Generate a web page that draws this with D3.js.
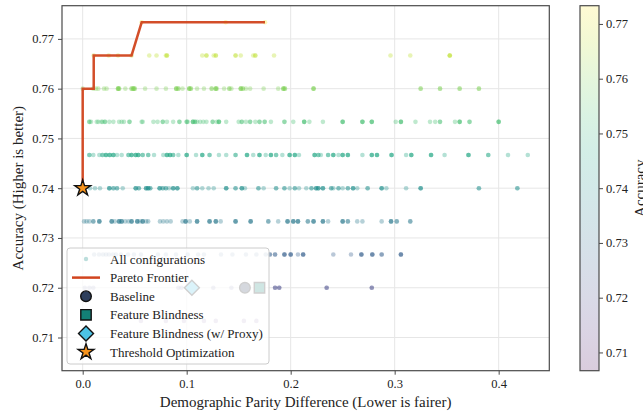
<!DOCTYPE html>
<html>
<head>
<meta charset="utf-8">
<script src="https://cdn.jsdelivr.net/npm/d3@7"></script>
<style>
  body { margin: 0; background: #fff; }
  svg { display: block; font-family: "Liberation Serif", "Times New Roman", serif; }
</style>
</head>
<body>
<svg id="chart" width="643" height="414" viewBox="0 0 643 414"></svg>
<script>
// accuracy levels (test set of 150 -> steps of 1/150)
// each row: [demographic parity difference, number of overlapping configs]
const acc7733 = [[0.0567, 1], [0.1375, 1], [0.1753, 1]];
const acc7667 = [[0.0106, 1], [0.025, 1], [0.034, 1], [0.047, 1], [0.064, 1], [0.071, 1], [0.080, 1], [0.081, 2],
  [0.115, 1], [0.119, 2], [0.126, 1], [0.128, 2], [0.147, 2], [0.152, 1], [0.164, 1], [0.166, 2], [0.184, 1],
  [0.296, 1], [0.315, 1], [0.353, 3]];
const acc7600 = [[0, 1], [0.0102, 1], [0.0128, 1], [0.015, 1], [0.0205, 1], [0.023, 1], [0.034, 3], [0.035, 2],
  [0.041, 1], [0.047, 2], [0.0487, 3], [0.050, 2], [0.060, 1], [0.071, 1], [0.080, 1], [0.090, 3], [0.092, 2],
  [0.096, 1], [0.1025, 3], [0.104, 2], [0.110, 1], [0.1166, 1], [0.124, 2], [0.128, 3], [0.129, 1], [0.136, 1],
  [0.141, 2], [0.143, 1], [0.152, 3], [0.154, 2], [0.157, 1], [0.161, 1], [0.174, 1], [0.188, 1], [0.193, 3],
  [0.1945, 2], [0.222, 3], [0.325, 2], [0.3436, 2], [0.3625, 2], [0.381, 2]];
const acc7533 = [[0.0064, 2], [0.008, 1], [0.0135, 1], [0.015, 1], [0.018, 1], [0.019, 1], [0.0214, 2], [0.0256, 1],
  [0.0295, 1], [0.035, 1], [0.0375, 1], [0.0397, 1], [0.045, 2], [0.0567, 1], [0.0577, 1], [0.068, 1], [0.072, 1],
  [0.077, 2], [0.081, 1], [0.087, 1], [0.093, 2], [0.100, 2], [0.101, 1], [0.106, 3], [0.108, 2], [0.110, 1],
  [0.113, 1], [0.116, 1], [0.119, 1], [0.125, 2], [0.129, 1], [0.131, 3], [0.138, 1], [0.150, 1], [0.153, 2],
  [0.157, 1], [0.161, 2], [0.166, 1], [0.170, 2], [0.175, 2], [0.181, 1], [0.194, 2], [0.2025, 1], [0.213, 3],
  [0.218, 1], [0.231, 1], [0.250, 3], [0.269, 3], [0.278, 3], [0.301, 1], [0.306, 3], [0.320, 1], [0.334, 1],
  [0.339, 1], [0.3436, 2], [0.358, 1], [0.3625, 3], [0.372, 2], [0.400, 3]];
const acc7467 = [[0.0064, 2], [0.0102, 1], [0.016, 1], [0.019, 2], [0.0224, 3], [0.026, 3], [0.0295, 3], [0.033, 1],
  [0.0375, 1], [0.044, 2], [0.047, 3], [0.051, 3], [0.0535, 3], [0.0577, 2], [0.063, 2], [0.0686, 1], [0.0775, 1],
  [0.081, 3], [0.084, 3], [0.087, 2], [0.092, 1], [0.100, 3], [0.109, 1], [0.115, 3], [0.122, 2], [0.131, 1],
  [0.138, 1], [0.147, 2], [0.158, 3], [0.164, 1], [0.170, 3], [0.176, 1], [0.181, 3], [0.186, 2], [0.192, 1],
  [0.199, 3], [0.204, 3], [0.208, 1], [0.223, 3], [0.2266, 2], [0.229, 1], [0.236, 2], [0.241, 3], [0.246, 1],
  [0.250, 3], [0.255, 3], [0.269, 1], [0.278, 3], [0.283, 3], [0.297, 3], [0.311, 1], [0.316, 3], [0.335, 3],
  [0.348, 1], [0.371, 3], [0.390, 2], [0.409, 1], [0.428, 1]];
const acc7400 = [[0.007, 1], [0.0118, 1], [0.0166, 1], [0.0256, 3], [0.0295, 2], [0.033, 2], [0.0385, 1],
  [0.051, 3], [0.054, 2], [0.061, 3], [0.063, 3], [0.065, 2], [0.074, 3], [0.077, 2], [0.080, 2], [0.083, 1],
  [0.087, 3], [0.091, 3], [0.106, 1], [0.110, 2], [0.115, 1], [0.121, 1], [0.126, 1], [0.138, 3], [0.147, 2],
  [0.153, 3], [0.156, 1], [0.169, 2], [0.174, 1], [0.186, 2], [0.194, 2], [0.199, 1], [0.204, 2], [0.208, 1],
  [0.215, 1], [0.220, 2], [0.2245, 3], [0.2266, 3], [0.231, 3], [0.239, 2], [0.241, 1], [0.246, 2], [0.250, 1],
  [0.255, 2], [0.260, 3], [0.264, 1], [0.274, 2], [0.2875, 3], [0.292, 1], [0.311, 1], [0.325, 3], [0.381, 2],
  [0.418, 2]];
const acc7333 = [[0.0013, 1], [0.0038, 1], [0.0064, 1], [0.0102, 2], [0.016, 3], [0.0279, 3], [0.031, 1],
  [0.035, 3], [0.0375, 3], [0.041, 1], [0.044, 1], [0.047, 3], [0.0525, 3], [0.055, 1], [0.0577, 3], [0.061, 1],
  [0.063, 1], [0.0743, 1], [0.0775, 1], [0.081, 1], [0.0846, 1], [0.096, 1], [0.099, 3], [0.103, 1], [0.110, 3],
  [0.122, 3], [0.128, 3], [0.1327, 1], [0.147, 3], [0.1615, 3], [0.1785, 2], [0.188, 1], [0.197, 3], [0.2025, 3],
  [0.207, 3], [0.2165, 2], [0.222, 3], [0.231, 3], [0.236, 1], [0.250, 3], [0.255, 2], [0.264, 1], [0.269, 1],
  [0.2875, 1], [0.2965, 3], [0.302, 2], [0.315, 2]];
const acc7267 = [[0.011, 1], [0.0157, 1], [0.0195, 1], [0.0224, 1], [0.0253, 1], [0.029, 1], [0.032, 1],
  [0.0368, 1], [0.0436, 1], [0.0493, 1], [0.056, 1], [0.0724, 1], [0.080, 1], [0.0897, 1], [0.101, 1], [0.111, 1],
  [0.1166, 1], [0.133, 1], [0.144, 1], [0.157, 1], [0.167, 1], [0.176, 1], [0.180, 2], [0.185, 2], [0.194, 3],
  [0.200, 3], [0.207, 1], [0.212, 3], [0.241, 1], [0.258, 1], [0.268, 3], [0.2785, 3], [0.2875, 2], [0.306, 3]];
const acc7200 = [[0.002, 1], [0.0064, 1], [0.0102, 1], [0.092, 1], [0.095, 1], [0.1256, 1], [0.143, 1],
  [0.185, 2], [0.189, 2], [0.2346, 2], [0.278, 2]];
const acc7133 = [[0.056, 1], [0.080, 1], [0.0974, 1], [0.1166, 1], [0.128, 1], [0.155, 1], [0.167, 1]];
const acc7067 = [[0.13, 1]];

const accRows = [
  [116 / 150, acc7733], [115 / 150, acc7667], [114 / 150, acc7600], [113 / 150, acc7533],
  [112 / 150, acc7467], [111 / 150, acc7400], [110 / 150, acc7333], [109 / 150, acc7267],
  [108 / 150, acc7200], [107 / 150, acc7133], [106 / 150, acc7067]
];

// pareto frontier (dpd, accuracy)
const paretoX = [0, 0, 0.0106, 0.0106, 0.047, 0.0567, 0.1753];
const paretoY = [0.74, 0.76, 0.76, 115 / 150, 115 / 150, 116 / 150, 116 / 150];

// named methods
const methods = [
  { name: "Baseline", dpd: 0.156, acc: 0.72, shape: "circle", color: "#2e3f5c" },
  { name: "Feature Blindness", dpd: 0.170, acc: 0.72, shape: "square", color: "#138076" },
  { name: "Feature Blindness (w/ Proxy)", dpd: 0.105, acc: 0.72, shape: "diamond", color: "#4cc3e6" },
  { name: "Threshold Optimization", dpd: 0, acc: 0.74, shape: "star", color: "#f7941d" }
];

const xTicks = [0, 0.1, 0.2, 0.3, 0.4];
const yTicks = [0.71, 0.72, 0.73, 0.74, 0.75, 0.76, 0.77];

const svg = d3.select("#chart");

const plot = { left: 62, right: 549.3, top: 5.7, bottom: 370.7 };
const cbar = { left: 580, right: 599, top: 5.7, bottom: 370.7 };

const x = d3.scaleLinear().domain([-0.0199, 0.4487]).range([plot.left, plot.right]);
const y = d3.scaleLinear().domain([0.70333, 0.77667]).range([plot.bottom, plot.top]);
const cScale = d3.scaleSequential(d3.interpolateViridis).domain([106 / 150, 116 / 150]);
const cY = d3.scaleLinear().domain([106 / 150, 116 / 150]).range([cbar.bottom, cbar.top]);

const spineColor = "#4a4a4a";
const textColor = "#222";

// grid
const grid = svg.append("g").attr("class", "grid");
grid.selectAll("line.gx").data(xTicks).enter().append("line")
  .attr("x1", (d) => x(d)).attr("x2", (d) => x(d))
  .attr("y1", plot.top).attr("y2", plot.bottom)
  .attr("stroke", "#e6e6e6").attr("stroke-width", 1);
grid.selectAll("line.gy").data(yTicks).enter().append("line")
  .attr("x1", plot.left).attr("x2", plot.right)
  .attr("y1", (d) => y(d)).attr("y2", (d) => y(d))
  .attr("stroke", "#e6e6e6").attr("stroke-width", 1);

// scatter of all configurations
const pts = accRows.flatMap(([acc, row]) =>
  row.flatMap(([dpd, n]) => d3.range(n).map(() => ({ dpd, acc })))
);
svg.append("g").attr("class", "dots")
  .selectAll("circle").data(pts).enter().append("circle")
  .attr("cx", (d) => x(d.dpd))
  .attr("cy", (d) => y(d.acc))
  .attr("r", 2.3)
  .attr("fill", (d) => cScale(d.acc))
  .attr("fill-opacity", 0.34);

// pareto frontier
const paretoData = paretoX.map((d, i) => [d, paretoY[i]]);
svg.append("path")
  .datum(paretoData)
  .attr("d", d3.line().x((d) => x(d[0])).y((d) => y(d[1])))
  .attr("fill", "none")
  .attr("stroke", "#d1441e")
  .attr("stroke-width", 2.5)
  .attr("stroke-opacity", 0.95)
  .attr("stroke-linejoin", "miter");

// marker helpers
function markerPath(shape) {
  if (shape === "circle") return d3.symbol(d3.symbolCircle, Math.PI * 5.3 * 5.3)();
  if (shape === "square") return d3.symbol(d3.symbolSquare, 10.4 * 10.4)();
  if (shape === "diamond") return d3.symbol(d3.symbolSquare, 10.6 * 10.6)();
  return d3.symbol(d3.symbolStar, 78)();
}
function drawMarker(g, m, cx, cy) {
  g.append("path")
    .attr("d", markerPath(m.shape))
    .attr("transform", `translate(${cx},${cy})` + (m.shape === "diamond" ? " rotate(45)" : ""))
    .attr("fill", m.color)
    .attr("stroke", "#111")
    .attr("stroke-width", 1.4)
    .attr("stroke-linejoin", "miter");
}

const markG = svg.append("g").attr("class", "methods");
methods.forEach((m) => drawMarker(markG, m, x(m.dpd), y(m.acc)));

// spines
svg.append("rect")
  .attr("x", plot.left).attr("y", plot.top)
  .attr("width", plot.right - plot.left).attr("height", plot.bottom - plot.top)
  .attr("fill", "none").attr("stroke", spineColor).attr("stroke-width", 1.2);

// x axis
const xAxis = svg.append("g")
  .attr("transform", `translate(0,${plot.bottom})`)
  .call(d3.axisBottom(x).tickValues(xTicks).tickFormat(d3.format(".1f")).tickSize(4).tickPadding(4));
xAxis.select(".domain").remove();
xAxis.selectAll("line").attr("stroke", spineColor);
xAxis.selectAll("text").attr("fill", textColor).style("font-size", "12.5px")
  .style("font-family", "Liberation Serif, serif");

// y axis
const yAxis = svg.append("g")
  .attr("transform", `translate(${plot.left},0)`)
  .call(d3.axisLeft(y).tickValues(yTicks).tickFormat(d3.format(".2f")).tickSize(4).tickPadding(4));
yAxis.select(".domain").remove();
yAxis.selectAll("line").attr("stroke", spineColor);
yAxis.selectAll("text").attr("fill", textColor).style("font-size", "12.5px")
  .style("font-family", "Liberation Serif, serif");

// axis labels
svg.append("text")
  .attr("x", (plot.left + plot.right) / 2).attr("y", 407)
  .attr("text-anchor", "middle").attr("fill", textColor)
  .style("font-size", "15px")
  .text("Demographic Parity Difference (Lower is fairer)");
svg.append("text")
  .attr("transform", `translate(23,${(plot.top + plot.bottom) / 2}) rotate(-90)`)
  .attr("text-anchor", "middle").attr("fill", textColor)
  .style("font-size", "15px")
  .text("Accuracy (Higher is better)");

// legend
const legend = svg.append("g").attr("class", "legend");
legend.append("rect")
  .attr("x", 67).attr("y", 248).attr("width", 202).attr("height", 116)
  .attr("rx", 3)
  .attr("fill", "#fff").attr("fill-opacity", 0.8)
  .attr("stroke", "#cccccc").attr("stroke-width", 1);

const legendItems = ["All configurations", "Pareto Frontier"].concat(methods.map((m) => m.name));
const legY = (i) => 259 + i * 18.6;
legend.append("circle")
  .attr("cx", 86).attr("cy", legY(0)).attr("r", 2.2)
  .attr("fill", cScale(0.74)).attr("fill-opacity", 0.3);
legend.append("line")
  .attr("x1", 72).attr("x2", 100).attr("y1", legY(1)).attr("y2", legY(1))
  .attr("stroke", "#d1441e").attr("stroke-width", 2.5);
methods.forEach((m, i) => drawMarker(legend, m, 86, legY(i + 2)));
legend.selectAll("text.item").data(legendItems).enter().append("text")
  .attr("x", 110).attr("y", (d, i) => legY(i))
  .attr("dy", "0.35em")
  .attr("fill", textColor)
  .style("font-size", "13px")
  .text((d) => d);

// colorbar
const defs = svg.append("defs");
const grad = defs.append("linearGradient")
  .attr("id", "cbGrad").attr("x1", "0").attr("x2", "0").attr("y1", "1").attr("y2", "0");
d3.range(0, 1.0001, 0.1).forEach((t) => {
  grad.append("stop")
    .attr("offset", t)
    .attr("stop-color", d3.interpolateViridis(t))
    .attr("stop-opacity", 0.2);
});
svg.append("rect")
  .attr("x", cbar.left).attr("y", cbar.top)
  .attr("width", cbar.right - cbar.left).attr("height", cbar.bottom - cbar.top)
  .attr("fill", "url(#cbGrad)")
  .attr("stroke", spineColor).attr("stroke-width", 1.2);

const cAxis = svg.append("g")
  .attr("transform", `translate(${cbar.right},0)`)
  .call(d3.axisRight(cY).tickValues(yTicks).tickFormat(d3.format(".2f")).tickSize(4).tickPadding(3));
cAxis.select(".domain").remove();
cAxis.selectAll("line").attr("stroke", spineColor);
cAxis.selectAll("text").attr("fill", textColor).style("font-size", "12.5px")
  .style("font-family", "Liberation Serif, serif");

// colorbar label sits at the right edge, partly cut off as in the original figure
svg.append("text")
  .attr("transform", `translate(645,${(cbar.top + cbar.bottom) / 2}) rotate(-90)`)
  .attr("text-anchor", "middle").attr("fill", textColor)
  .style("font-size", "15px")
  .text("Accuracy");
</script>
</body>
</html>
